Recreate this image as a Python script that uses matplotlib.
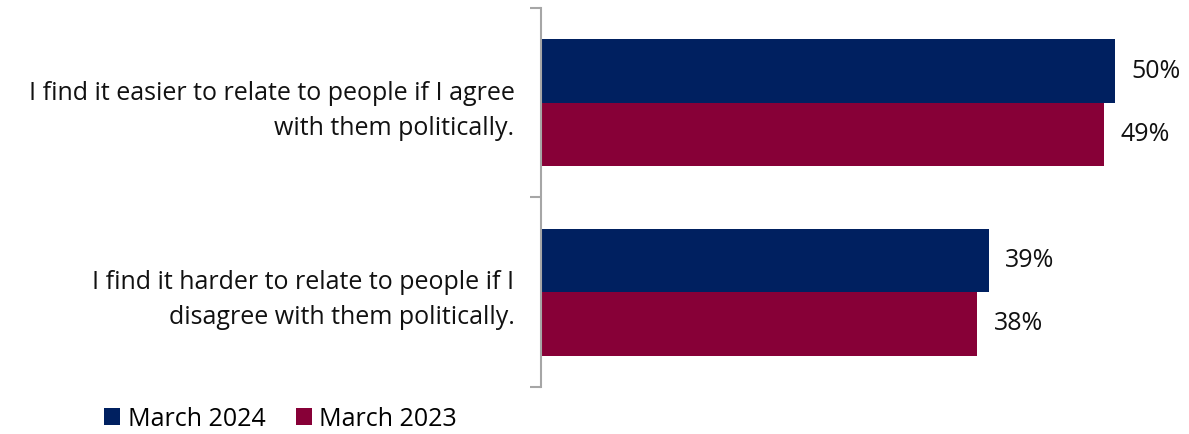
import matplotlib
matplotlib.use("Agg")
import matplotlib.pyplot as plt
import numpy as np
from matplotlib.patches import Patch

plt.rcParams['font.family'] = ['Open Sans', 'DejaVu Sans']

categories = [
    "I find it easier to relate to people if I agree\nwith them politically.",
    "I find it harder to relate to people if I\ndisagree with them politically.",
]
series_names = ["March 2024", "March 2023"]
march_2024 = [50, 39]
march_2023 = [49, 38]
colors = ["#002060", "#870037"]

FS = 18

fig = plt.figure(figsize=(11.89, 4.34), dpi=100)
ax = fig.add_axes([541 / 1189, 1 - 387 / 434, (1150 - 541) / 1189, (387 - 8) / 434])

y = np.arange(len(categories))
h = 0.335
ax.barh(y - h / 2, march_2024, height=h, color=colors[0])
ax.barh(y + h / 2, march_2023, height=h, color=colors[1])

for vals, off in ((march_2024, -h / 2), (march_2023, h / 2)):
    for yi, v in zip(y, vals):
        ax.text(v + 1.45, yi + off, f"{v}%", va="center", ha="left", fontsize=FS, color="#111111")

ax.set_xlim(0, (1150 - 541) / 11.48)
ax.set_ylim(len(categories) - 0.5, -0.5)

for s in ("top", "right", "bottom"):
    ax.spines[s].set_visible(False)
ax.spines["left"].set_color("#A6A6A6")
ax.spines["left"].set_linewidth(1.5)
ax.set_xticks([])

ax.set_yticks(y)
ax.set_yticklabels(categories, fontsize=FS, color="#111111", linespacing=1.52)
ax.tick_params(axis="y", which="major", length=0, pad=19)
ax.set_yticks(np.arange(-0.5, len(categories)), minor=True)
ax.tick_params(axis="y", which="minor", length=8, width=1.5, color="#A6A6A6")

handles = [Patch(facecolor=c, label=n) for c, n in zip(colors, series_names)]
fig.legend(handles=handles, loc="center left", bbox_to_anchor=(94 / 1189, 1 - 419 / 434),
           ncol=2, frameon=False, fontsize=FS, handlelength=0.65, handleheight=0.65,
           handletextpad=0.3, columnspacing=1.2, borderaxespad=0)

fig.savefig("out.png", dpi=100)
